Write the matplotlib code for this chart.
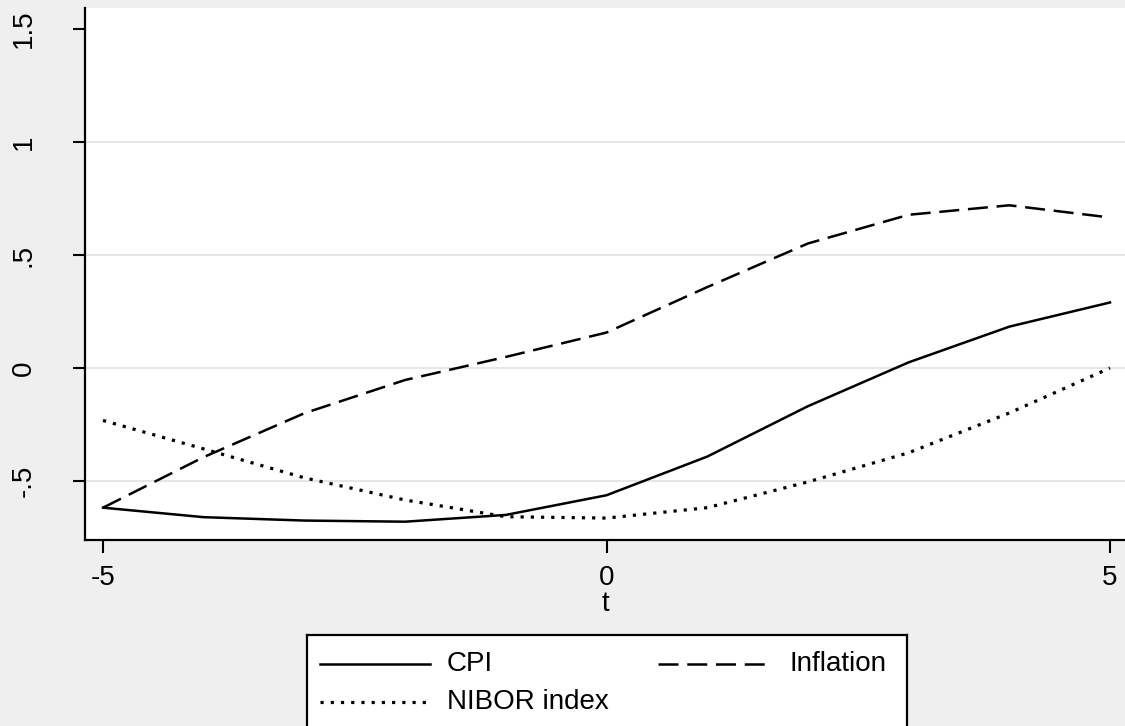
import matplotlib
matplotlib.use("Agg")
import matplotlib.pyplot as plt

# Response paths over event time t
t = [-5, -4, -3, -2, -1, 0, 1, 2, 3, 4, 5]
cpi = [-0.618, -0.660, -0.675, -0.680, -0.650, -0.563, -0.392, -0.169, 0.025, 0.183, 0.290]
inflation = [-0.618, -0.394, -0.200, -0.053, 0.049, 0.157, 0.358, 0.551, 0.678, 0.720, 0.666]
nibor = [-0.232, -0.358, -0.486, -0.584, -0.658, -0.664, -0.618, -0.504, -0.375, -0.199, 0.000]

series_names = ["CPI", "Inflation", "NIBOR index"]

ytick_vals = [-0.5, 0, 0.5, 1, 1.5]
ytick_labels = ["-.5", "0", ".5", "1", "1.5"]
grid_vals = [-0.5, 0, 0.5, 1]
xtick_vals = [-5, 0, 5]
xtick_labels = ["-5", "0", "5"]

W, H = 1125, 726
BG = "#efefef"
FONT = "Liberation Sans"
FS = 20

plt.rcParams["font.family"] = [FONT, "DejaVu Sans"]

fig = plt.figure(figsize=(W / 100, H / 100), dpi=100, facecolor=BG)

# plot region in pixel terms
left_px, right_px, top_px, bottom_px = 85, 1125, 8, 540
ax = fig.add_axes([left_px / W, (H - bottom_px) / H,
                   (right_px - left_px) / W, (bottom_px - top_px) / H])
ax.set_facecolor("white")

solid = "-"
dashed = (0, (8, 3.5))
dotted = (0, (1.0, 2.2))
lw = 1.8
lw_dot = 2.3

for yv in grid_vals:
    ax.axhline(yv, color="#e6e6e6", lw=1.4, zorder=0)

ax.plot(t, cpi, color="black", lw=lw, ls=solid)
ax.plot(t, inflation, color="black", lw=lw, ls=dashed)
ax.plot(t, nibor, color="black", lw=lw_dot, ls=dotted)

ax.set_xlim(-5.179, 5.149)
ax.set_ylim(-0.761, 1.593)

for s in ["top", "right"]:
    ax.spines[s].set_visible(False)
for s in ["left", "bottom"]:
    ax.spines[s].set_linewidth(1.6)
    ax.spines[s].set_color("black")

ax.set_yticks(ytick_vals)
ax.set_yticklabels(ytick_labels, rotation=90, va="center", fontsize=FS)
ax.set_xticks(xtick_vals)
ax.set_xticklabels(xtick_labels, fontsize=FS)
ax.tick_params(axis="both", direction="out", length=9, width=1.5, color="black")
ax.tick_params(axis="y", pad=26)
ax.tick_params(axis="x", pad=9)
ax.set_xlabel("t", fontsize=FS, labelpad=0)

# Legend box
lx0, lx1, ly0, ly1 = 307, 907, 635, 760
lax = fig.add_axes([lx0 / W, (H - ly1) / H, (lx1 - lx0) / W, (ly1 - ly0) / H])
lax.set_xlim(lx0, lx1)
lax.set_ylim(ly1, ly0)
lax.set_facecolor("white")
lax.set_xticks([])
lax.set_yticks([])
for s in lax.spines.values():
    s.set_linewidth(1.6)
    s.set_color("black")

entries = [
    (series_names[0], solid, lw, 320, 430, 447, 664),
    (series_names[1], dashed, lw, 658, 768, 790, 664),
    (series_names[2], dotted, lw_dot, 320, 430, 447, 702),
]
for name, style, width, x0, x1, tx, yy in entries:
    lax.plot([x0, x1], [yy, yy], color="black", lw=width, ls=style)
    lax.text(tx, yy, name, fontsize=FS, va="center", ha="left")

fig.savefig("out.png", dpi=100, facecolor=BG)
